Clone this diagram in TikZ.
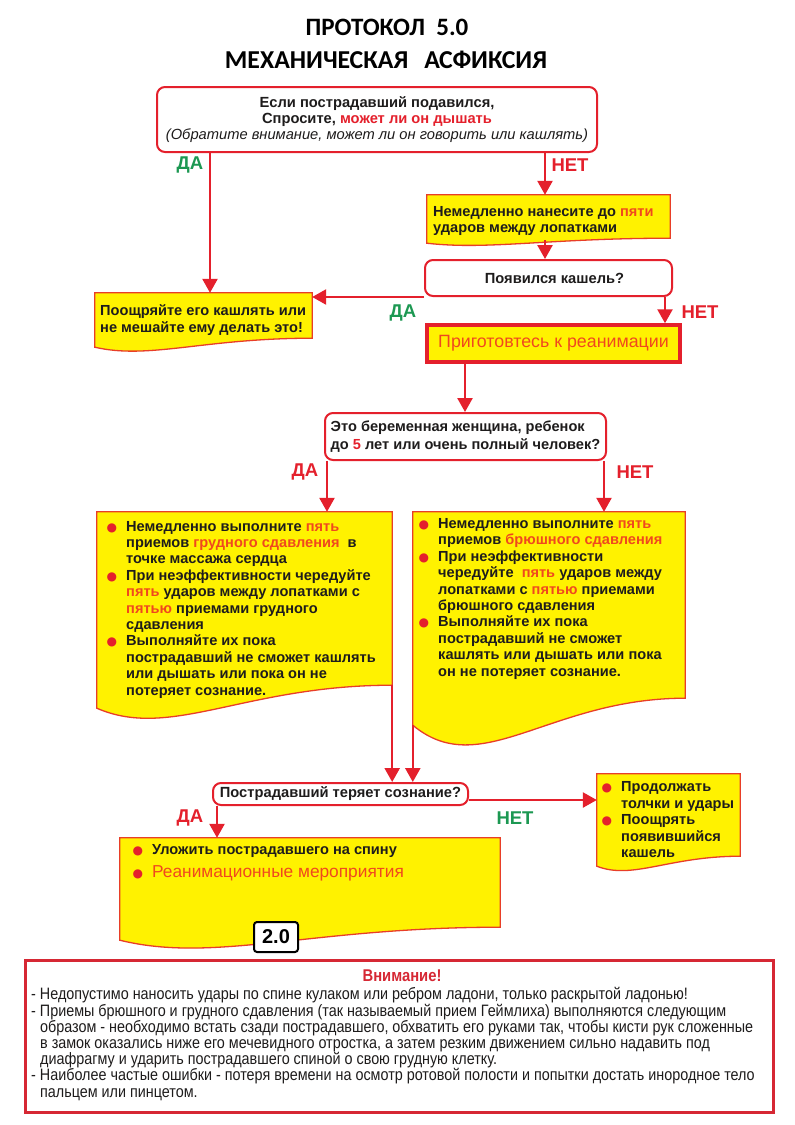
\documentclass[tikz,border=0pt]{standalone}
\usepackage{fontspec}
\setmainfont{Liberation Sans}
\newfontfamily\titlefont{Carlito}
\newfontfamily\narrowfont[FakeStretch=0.87]{Liberation Sans}
\newfontfamily\symfont{DejaVu Sans}
\usetikzlibrary{arrows.meta,calc,fit}
\definecolor{myred}{RGB}{228,32,44}
\definecolor{boxred}{RGB}{214,40,52}
\definecolor{myyellow}{RGB}{255,242,0}
\definecolor{mygreen}{RGB}{28,152,82}
\definecolor{hl}{RGB}{240,72,30}
\definecolor{docred}{RGB}{232,62,40}
\definecolor{ink}{RGB}{30,28,28}
\newcommand\hi[1]{\textcolor{hl}{#1}}
\newcommand\bul{\llap{\textcolor{myred}{\symfont\fontsize{12}{12}\selectfont ●}\hspace{9pt}}}
\newcommand\boldtext{\bfseries\fontsize{14.7}{16}\selectfont}
\newcommand\docshape[3]{%
  \path[docstyle] let \p1=(#1.south west), \p2=(#1.north east) in
    (\x1,\y2) -- (\x2,\y2) -- ({\x2},{\y1+#2})
    .. controls ({\x1+0.5*(\x2-\x1)},{\y1+#2}) and ({\x1+0.25*(\x2-\x1)},{\y1-#3*#2}) .. (\x1,\y1) -- cycle;
}
\tikzset{
  qbox/.style={draw=myred, line width=2pt, rounded corners=8pt, fill=white, inner sep=0pt, text=ink},
  arr/.style={draw=myred, line width=2.5pt, -{Triangle[length=14pt,width=15pt]}},
  lbl/.style={font=\bfseries\fontsize{18.5}{18.5}\selectfont, inner sep=0pt},
  docstyle/.style={fill=myyellow, draw=docred, line width=1.3pt},
  docarea/.style={inner sep=0pt, draw=none, rectangle},
  doctext/.style={inner sep=0pt, align=left, text=ink},
  titlestyle/.style={font=\titlefont\bfseries\fontsize{25}{25}\selectfont, inner sep=0pt}
}
\begin{document}
\begin{tikzpicture}[x=1pt,y=-1pt]
\useasboundingbox (0,0) rectangle (795,1125);
\fill[white] (0,0) rectangle (795,1125);

% title
\node[titlestyle] (t1) at (387,27) {ПРОТОКОЛ\ \ 5.0};
\node[titlestyle, font=\titlefont\bfseries\fontsize{25.8}{25.8}\selectfont] (t2) at (386,60) {МЕХАНИЧЕСКАЯ\hspace{16pt}АСФИКСИЯ};

% first question
\node[qbox, minimum width=440pt, minimum height=65pt, align=center, font=\boldtext] (q1) at (377,119.5)
  {Если пострадавший подавился,\\Спросите, \textcolor{myred}{может ли он дышать}\\{\mdseries\itshape (Обратите внимание, может ли он говорить или кашлять)}};

% encourage cough
\node[docarea, fit={(95,293) (312,347)}] (d1) {};
\docshape{d1}{9pt}{1.4}
\node[doctext, anchor=base west, font=\bfseries\fontsize{14.6}{17}\selectfont] (d1t) at (100,332.5)
  {Поощряйте его кашлять или\\не мешайте ему делать это!};

% five blows
\node[docarea, fit={(427,195) (670,243)}] (d2) {};
\docshape{d2}{5pt}{1.4}
\node[doctext, anchor=base west, font=\bfseries\fontsize{14.6}{16}\selectfont] (d2t) at (433,232.5)
  {Немедленно нанесите до \hi{пяти}\\ударов между лопатками};

% cough appeared?
\node[qbox, minimum width=247pt, minimum height=36pt, font=\boldtext] (q2) at (548.5,278) {\hspace*{12pt}Появился кашель?};

% prepare
\node[draw=myred, line width=3.5pt, fill=myyellow, minimum width=253pt, minimum height=37pt,
      font=\fontsize{17.8}{17.8}\selectfont, text=hl, inner sep=0pt] (q3) at (553.5,343.5) {Приготовтесь к реанимации};

% pregnant?
\node[qbox, align=left, minimum width=281pt, minimum height=47pt,
      font=\bfseries\fontsize{14.6}{18}\selectfont] (q4) at (465.5,436.5)
  {Это беременная женщина, ребенок\\до \textcolor{myred}{5} лет или очень полный человек?};

% chest thrusts
\node[docarea, fit={(97,512) (392,708)}] (d3) {};
\docshape{d3}{23pt}{1.4}
\node[doctext, anchor=base west, font=\bfseries\fontsize{14.6}{16.4}\selectfont] (d3t) at (126,695)
  {\bul Немедленно выполните \hi{пять}\\
   приемов \hi{грудного сдавления}\ \ в\\
   точке массажа сердца\\
   \bul При неэффективности чередуйте\\
   \hi{пять} ударов между лопатками с\\
   \hi{пятью} приемами грудного\\
   сдавления\\
   \bul Выполняйте их пока\\
   пострадавший не сможет кашлять\\
   или дышать или пока он не\\
   потеряет сознание.};

% abdominal thrusts
\node[docarea, fit={(413,512) (685,725)}] (d4) {};
\docshape{d4}{27pt}{2.1}
\node[doctext, anchor=base west, font=\bfseries\fontsize{14.6}{16.4}\selectfont] (d4t) at (438,676)
  {\bul Немедленно выполните \hi{пять}\\
   приемов \hi{брюшного сдавления}\\
   \bul При неэффективности\\
   чередуйте\ \ \hi{пять} ударов между\\
   лопатками с \hi{пятью} приемами\\
   брюшного сдавления\\
   \bul Выполняйте их пока\\
   пострадавший не сможет\\
   кашлять или дышать или пока\\
   он не потеряет сознание.};

% loses consciousness?
\node[qbox, minimum width=255pt, minimum height=22pt, font=\boldtext] (q5) at (340.5,794) {Пострадавший теряет сознание?};

% resuscitation
\node[docarea, fit={(120,838) (500,940)}] (d5) {};
\docshape{d5}{13pt}{1.8}
\node[doctext, anchor=base west, font=\bfseries\fontsize{14.6}{16}\selectfont] (d5a) at (152,854)
  {\bul Уложить пострадавшего на спину};
\node[doctext, anchor=base west, font=\fontsize{17.3}{17.3}\selectfont, text=hl] (d5b) at (152,877)
  {\bul Реанимационные мероприятия};

% continue
\node[docarea, fit={(597,774) (740,866)}] (d6) {};
\docshape{d6}{10pt}{1.4}
\node[doctext, anchor=base west, font=\bfseries\fontsize{14.6}{16.5}\selectfont] (d6t) at (621,857.5)
  {\bul Продолжать\\толчки и удары\\\bul Поощрять\\появившийся\\кашель};

% version tag
\node[draw=black, line width=2pt, rounded corners=3pt, fill=white, minimum width=44pt, minimum height=30pt,
      inner sep=0pt, font=\bfseries\fontsize{20}{20}\selectfont] (v) at (276,937) {2.0};

% warning box
\node[draw=boxred, line width=3pt, fill=white, inner sep=0pt, fit={(25,960) (773,1112)}] (wbox) {};
\node[font=\narrowfont\bfseries\fontsize{17}{17}\selectfont, text=boxred, inner sep=0pt] (wt) at (402,976) {Внимание!};
\node[anchor=base west, align=left, inner sep=0pt, text=ink, font=\narrowfont\fontsize{16.5}{16.2}\selectfont] (wtext) at (31,1097)
  {- Недопустимо наносить удары по спине кулаком или ребром ладони, только раскрытой ладонью!\\
   - Приемы брюшного и грудного сдавления (так называемый прием Геймлиха) выполняются следующим\\
   \hspace*{9pt}образом - необходимо встать сзади пострадавшего, обхватить его руками так, чтобы кисти рук сложенные\\
   \hspace*{9pt}в замок оказались ниже его мечевидного отростка, а затем резким движением сильно надавить под\\
   \hspace*{9pt}диафрагму и ударить пострадавшего спиной о свою грудную клетку.\\
   - Наиболее частые ошибки - потеря времени на осмотр ротовой полости и попытки достать инородное тело\\
   \hspace*{9pt}пальцем или пинцетом.};

% connectors
\coordinate (xa) at (210,0);
\coordinate (xb) at (545,0);
\coordinate (xc) at (665,0);
\coordinate (xd) at (465,0);
\coordinate (xe) at (327,0);
\coordinate (xf) at (604,0);
\coordinate (xg) at (217,0);
\draw[arr] (q1.south -| xa) -- (d1.north -| xa);
\draw[arr] (q1.south -| xb) -- (d2.north -| xb);
\draw[arr] ([yshift=3pt]d2.south -| xb) -- (q2.north -| xb);
\draw[arr] (q2.south west) -- (q2.south west -| d1.east);
\draw[arr] (q2.south -| xc) -- (q3.north -| xc);
\draw[arr] (q3.south -| xd) -- (q4.north -| xd);
\draw[arr] (q4.south -| xe) -- (d3.north -| xe);
\draw[arr] (q4.south -| xf) -- (d4.north -| xf);
\draw[arr] ([yshift=23pt]d3.south east) -- (d3.south east |- q5.north);
\draw[arr] (d4.south west) -- (d4.south west |- q5.north);
\draw[arr] (q5.south -| xg) -- (d5.north -| xg);
\draw[arr] ([yshift=-6pt]q5.east) -- ([yshift=-6pt]q5.east -| d6.west);

% labels
\node[lbl, text=mygreen] (l1) at (190,165) {ДА};
\node[lbl, text=myred] (l2) at (570,165) {НЕТ};
\node[lbl, text=mygreen] (l3) at (403,313) {ДА};
\node[lbl, text=myred] (l4) at (700,312) {НЕТ};
\node[lbl, text=myred] (l5) at (305,472) {ДА};
\node[lbl, text=myred] (l6) at (635,472) {НЕТ};
\node[lbl, text=myred] (l7) at (190,818) {ДА};
\node[lbl, text=mygreen] (l8) at (515,818) {НЕТ};
\end{tikzpicture}
\end{document}
